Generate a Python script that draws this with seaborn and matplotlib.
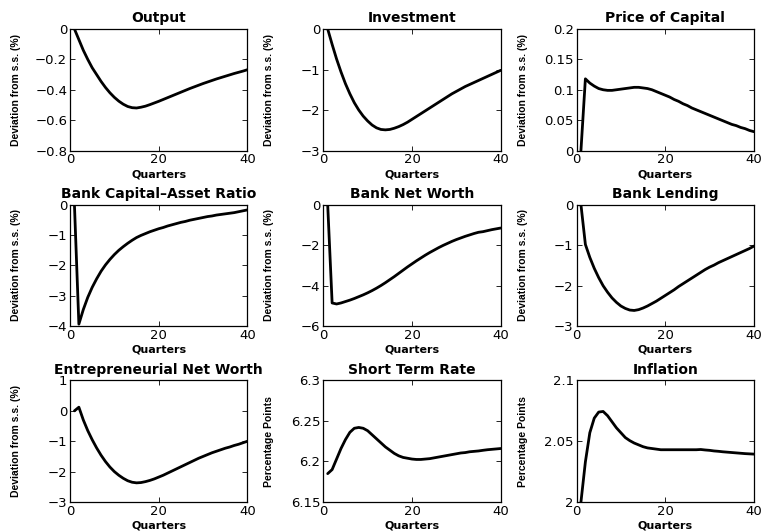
import numpy as np
import pandas as pd
import matplotlib
matplotlib.use("Agg")
import matplotlib.pyplot as plt
from matplotlib.ticker import FuncFormatter, FixedLocator
import seaborn as sns

quarters = list(range(1, 41))

output = [0.0, -0.07, -0.14, -0.20, -0.255, -0.30, -0.345, -0.385, -0.42, -0.45,
          -0.475, -0.495, -0.51, -0.518, -0.52, -0.515, -0.508, -0.498, -0.487, -0.476,
          -0.464, -0.452, -0.44, -0.428, -0.416, -0.404, -0.392, -0.381, -0.37, -0.359,
          -0.349, -0.339, -0.329, -0.32, -0.311, -0.302, -0.293, -0.285, -0.277, -0.268]

investment = [0.0, -0.38, -0.74, -1.06, -1.35, -1.6, -1.82, -2.0, -2.15, -2.27,
              -2.37, -2.44, -2.48, -2.49, -2.48, -2.45, -2.41, -2.36, -2.3, -2.23,
              -2.16, -2.09, -2.02, -1.95, -1.88, -1.81, -1.74, -1.67, -1.6, -1.54,
              -1.48, -1.42, -1.37, -1.32, -1.27, -1.22, -1.17, -1.12, -1.07, -1.02]

price_capital = [0.0, 0.118, 0.111, 0.106, 0.102, 0.1, 0.099, 0.099, 0.1, 0.101,
                 0.102, 0.103, 0.104, 0.104, 0.103, 0.102, 0.1, 0.097, 0.094, 0.091,
                 0.088, 0.084, 0.081, 0.077, 0.074, 0.07, 0.067, 0.064, 0.061, 0.058,
                 0.055, 0.052, 0.049, 0.046, 0.043, 0.041, 0.038, 0.036, 0.033, 0.031]

bank_cap_ratio = [0.0, -3.93, -3.45, -3.05, -2.72, -2.44, -2.19, -1.98, -1.8, -1.64,
                  -1.5, -1.38, -1.27, -1.17, -1.08, -1.01, -0.95, -0.89, -0.84, -0.79,
                  -0.75, -0.7, -0.66, -0.62, -0.58, -0.55, -0.51, -0.48, -0.45, -0.42,
                  -0.39, -0.37, -0.34, -0.32, -0.3, -0.28, -0.26, -0.23, -0.2, -0.17]

bank_net_worth = [0.0, -4.85, -4.9, -4.85, -4.78, -4.71, -4.63, -4.54, -4.45, -4.35,
                  -4.24, -4.12, -3.99, -3.85, -3.7, -3.55, -3.39, -3.23, -3.07, -2.92,
                  -2.77, -2.63, -2.49, -2.36, -2.24, -2.12, -2.01, -1.91, -1.81, -1.72,
                  -1.64, -1.56, -1.49, -1.42, -1.36, -1.33, -1.28, -1.23, -1.19, -1.15]

bank_lending = [0.0, -0.98, -1.3, -1.57, -1.8, -2.0, -2.16, -2.3, -2.41, -2.5,
                -2.56, -2.6, -2.61, -2.59, -2.55, -2.5, -2.44, -2.38, -2.31, -2.24,
                -2.17, -2.1, -2.02, -1.95, -1.88, -1.81, -1.74, -1.67, -1.6, -1.54,
                -1.49, -1.43, -1.38, -1.33, -1.28, -1.23, -1.18, -1.13, -1.08, -1.02]

entre_net_worth = [0.0, 0.12, -0.3, -0.65, -0.95, -1.22, -1.46, -1.67, -1.85, -2.0,
                   -2.12, -2.22, -2.3, -2.35, -2.37, -2.36, -2.33, -2.29, -2.24, -2.18,
                   -2.12, -2.05, -1.98, -1.91, -1.84, -1.77, -1.7, -1.63, -1.56, -1.5,
                   -1.44, -1.38, -1.33, -1.28, -1.23, -1.19, -1.14, -1.1, -1.05, -1.0]

short_rate = [6.185, 6.19, 6.203, 6.216, 6.227, 6.236, 6.241, 6.242, 6.241, 6.238,
              6.233, 6.228, 6.223, 6.218, 6.214, 6.21, 6.207, 6.205, 6.204, 6.203,
              6.2025, 6.2025, 6.203, 6.2035, 6.2045, 6.2055, 6.2065, 6.2075, 6.2085, 6.2095,
              6.2105, 6.211, 6.212, 6.2125, 6.213, 6.2138, 6.2145, 6.215, 6.2155, 6.216]

inflation = [2.0, 2.033, 2.057, 2.069, 2.074, 2.0745, 2.071, 2.066, 2.061, 2.057,
             2.053, 2.0505, 2.0485, 2.047, 2.0455, 2.0445, 2.044, 2.0435, 2.043, 2.043,
             2.043, 2.043, 2.043, 2.043, 2.043, 2.043, 2.043, 2.0432, 2.0428, 2.0425,
             2.042, 2.0417, 2.0413, 2.041, 2.0407, 2.0404, 2.0401, 2.0398, 2.0396, 2.0394]

titles = ["Output", "Investment", "Price of Capital",
          "Bank Capital\u2013Asset Ratio", "Bank Net Worth", "Bank Lending",
          "Entrepreneurial Net Worth", "Short Term Rate", "Inflation"]
series = [output, investment, price_capital,
          bank_cap_ratio, bank_net_worth, bank_lending,
          entre_net_worth, short_rate, inflation]
ylabels = ["Deviation from s.s. (%)"] * 7 + ["Percentage Points"] * 2
yticks = [[-0.8, -0.6, -0.4, -0.2, 0.0],
          [-3, -2, -1, 0],
          [0, 0.05, 0.1, 0.15, 0.2],
          [-4, -3, -2, -1, 0],
          [-6, -4, -2, 0],
          [-3, -2, -1, 0],
          [-3, -2, -1, 0, 1],
          [6.15, 6.2, 6.25, 6.3],
          [2.0, 2.05, 2.1]]
xticks = [0, 20, 40]
xlabel = "Quarters"

sns.set_style("ticks")
plt.rcParams["font.family"] = ["DejaVu Sans"]
plt.rcParams["text.color"] = "black"
plt.rcParams["axes.labelcolor"] = "black"
plt.rcParams["xtick.color"] = "black"
plt.rcParams["ytick.color"] = "black"
plt.rcParams["xtick.direction"] = "in"
plt.rcParams["ytick.direction"] = "in"


def fmt(v, pos):
    v = round(v, 8)
    if abs(v) < 1e-12:
        return "0"
    return f"{v:g}".replace("-", "\u2212")


fig, axes = plt.subplots(3, 3, figsize=(7.65, 5.32), dpi=100)
fig.subplots_adjust(left=0.0915, right=0.9856, top=0.9455, bottom=0.0564,
                    wspace=0.427, hspace=0.446)

for ax, title, vals, ylab, yt in zip(axes.flat, titles, series, ylabels, yticks):
    df = pd.DataFrame({"q": quarters, "v": vals})
    sns.lineplot(data=df, x="q", y="v", ax=ax, color="black", linewidth=2.0)
    ax.set_xlim(0, 40)
    ax.set_ylim(min(yt), max(yt))
    ax.xaxis.set_major_locator(FixedLocator(xticks))
    ax.yaxis.set_major_locator(FixedLocator(yt))
    ax.yaxis.set_major_formatter(FuncFormatter(fmt))
    ax.xaxis.set_major_formatter(FuncFormatter(fmt))
    ax.tick_params(axis="both", which="major", direction="in", length=3.5, width=0.6,
                   top=True, right=True, labelsize=9.5, pad=2,
                   colors="black", labelcolor="black")
    for s in ax.spines.values():
        s.set_visible(True)
        s.set_linewidth(0.9)
        s.set_color("black")
    ax.set_title(title, fontsize=10, fontweight="bold", pad=5, color="black")
    ax.set_xlabel(xlabel, fontsize=8, fontweight="bold", labelpad=2, color="black")
    ax.set_ylabel(ylab, fontsize=7.5, fontweight="bold", color="black",
                  family=["Liberation Sans", "DejaVu Sans"])
    ax.yaxis.set_label_coords(-0.275, 0.5)

fig.savefig("out.png", dpi=100)
